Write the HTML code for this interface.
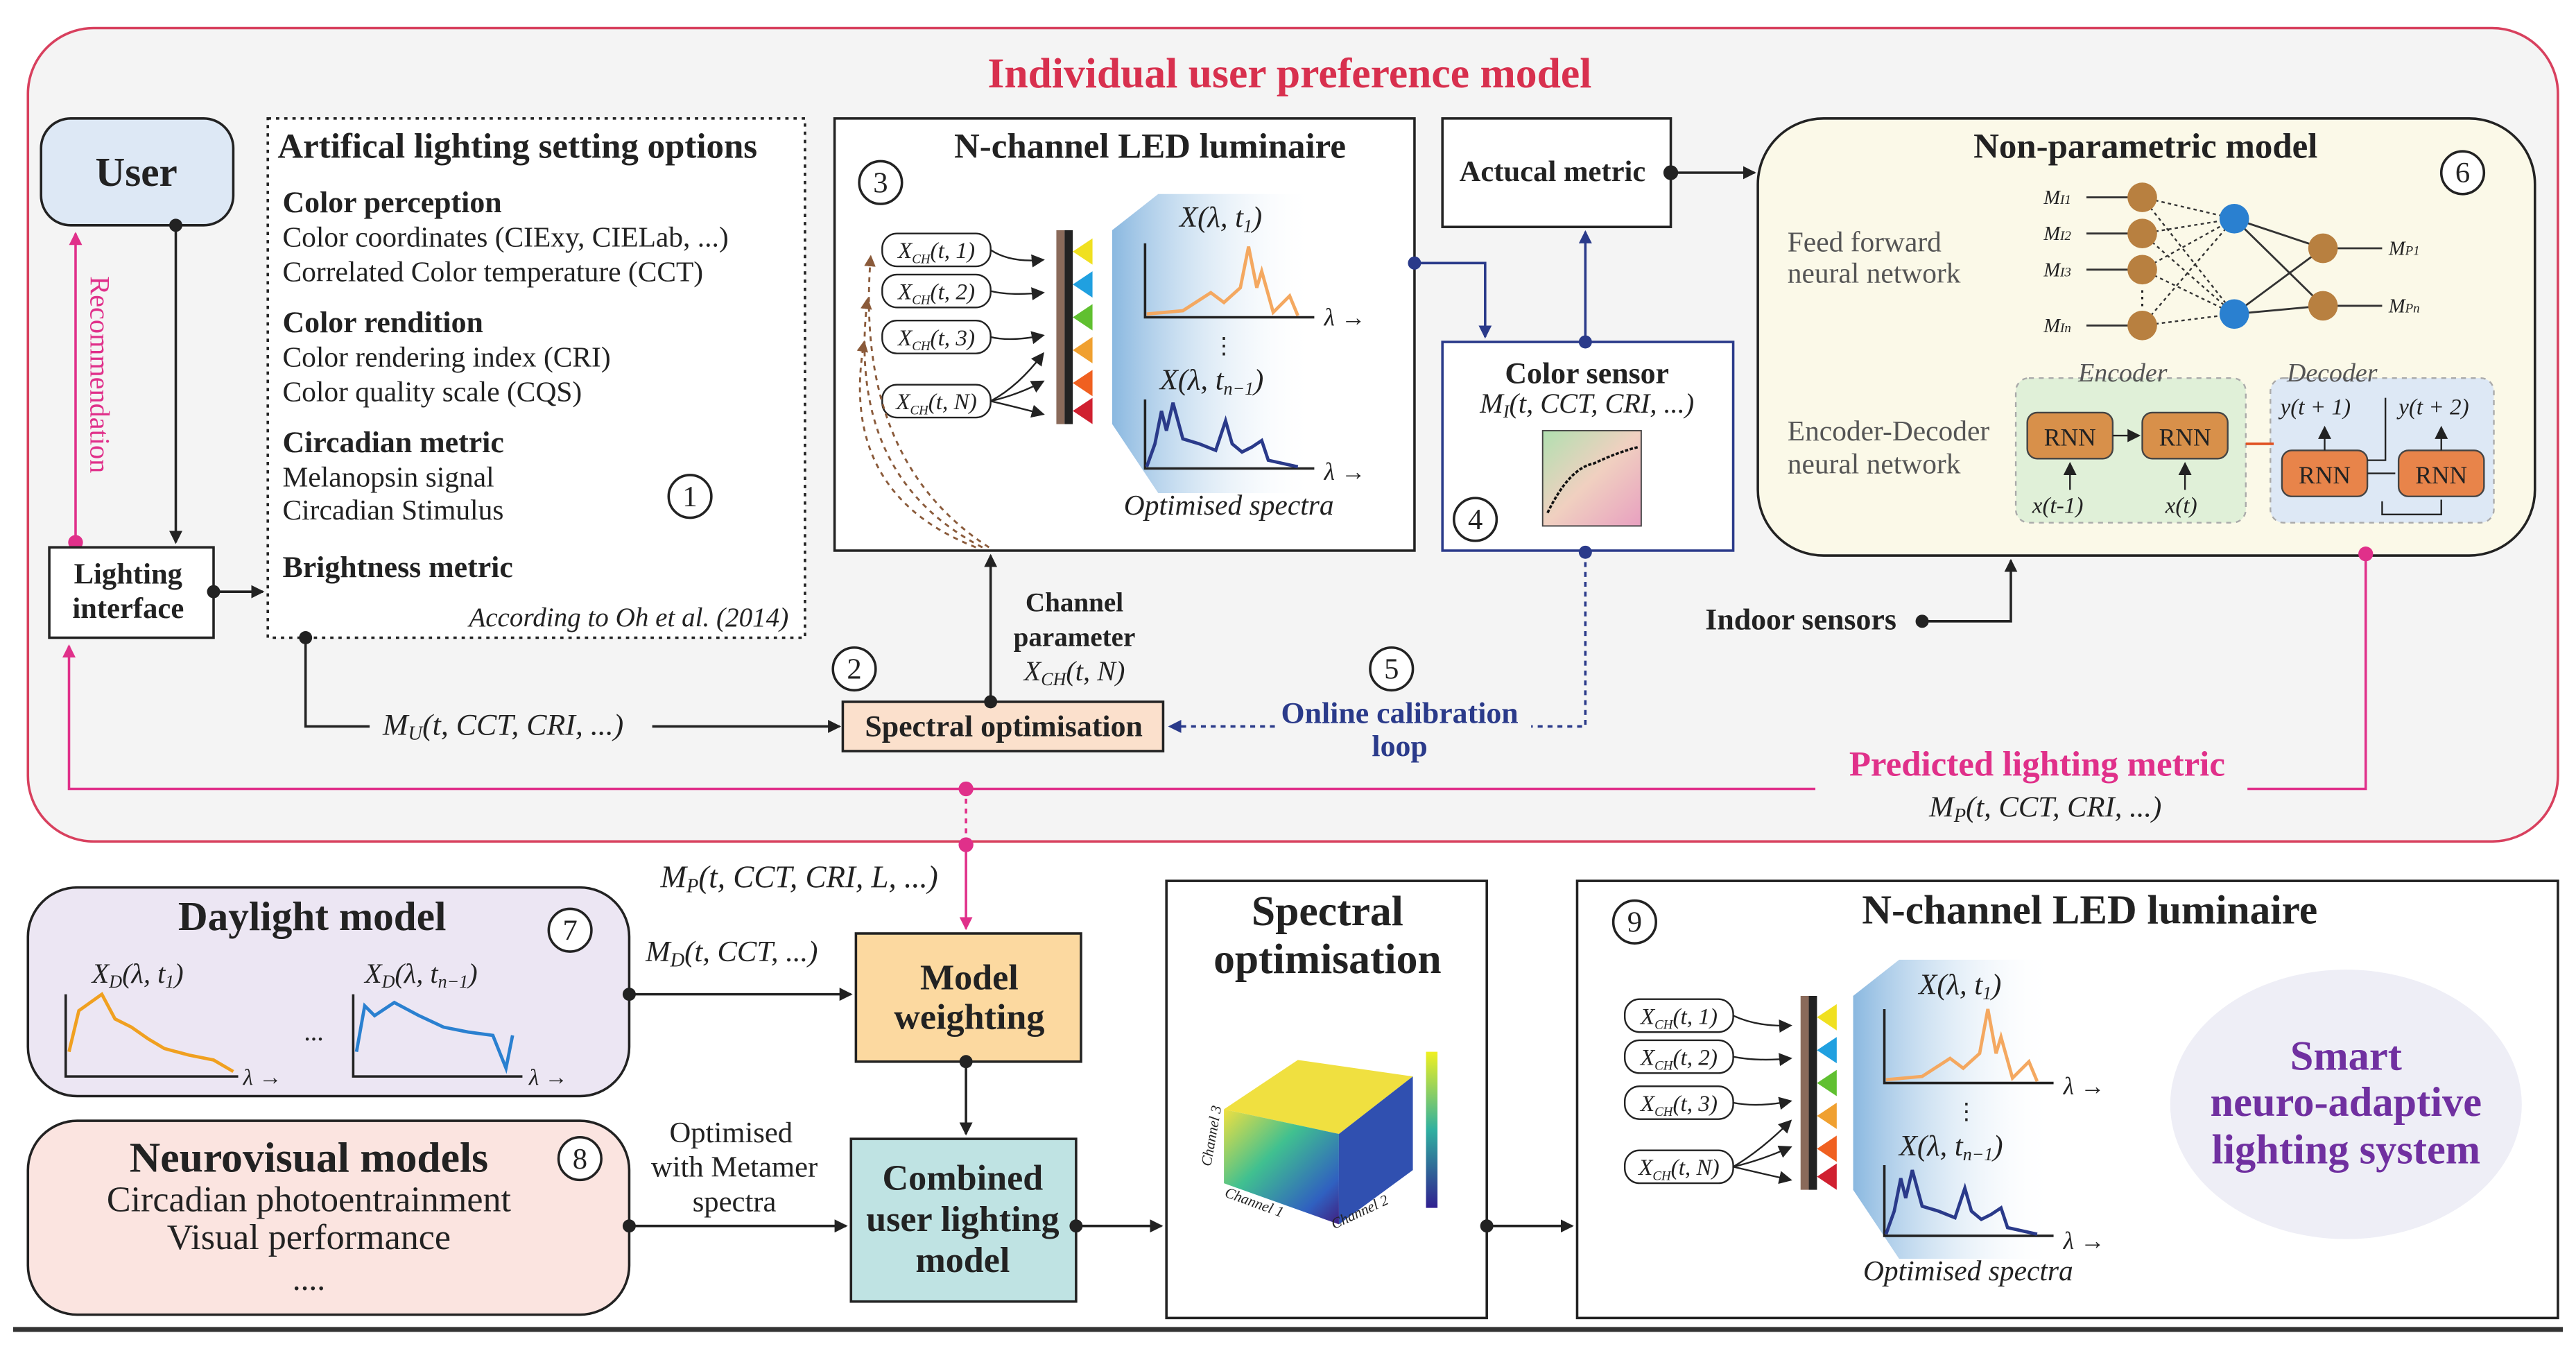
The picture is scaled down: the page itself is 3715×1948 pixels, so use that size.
<!DOCTYPE html>
<html><head><meta charset="utf-8"><style>
html,body{margin:0;padding:0;background:#fff}
svg{display:block}
text{font-family:"Liberation Serif",serif;fill:#222}
.b{font-weight:bold}
.i{font-style:italic}
</style></head><body>
<svg width="3715" height="1948" viewBox="0 0 1568 822" xmlns="http://www.w3.org/2000/svg">
<defs>
<marker id="a" markerWidth="8" markerHeight="8" refX="7" refY="4" orient="auto" markerUnits="userSpaceOnUse"><path d="M0,0 L8,4 L0,8 Z" fill="#222"/></marker>
<marker id="ab" markerWidth="8" markerHeight="8" refX="7" refY="4" orient="auto" markerUnits="userSpaceOnUse"><path d="M0,0 L8,4 L0,8 Z" fill="#2a3a8a"/></marker>
<marker id="ap" markerWidth="8" markerHeight="8" refX="7" refY="4" orient="auto" markerUnits="userSpaceOnUse"><path d="M0,0 L8,4 L0,8 Z" fill="#e0308a"/></marker>
<marker id="abr" markerWidth="7" markerHeight="7" refX="6" refY="3.5" orient="auto" markerUnits="userSpaceOnUse"><path d="M0,0 L7,3.5 L0,7 Z" fill="#8a5a3a"/></marker>
<linearGradient id="bl" x1="0" x2="1"><stop offset="0" stop-color="#8ab8e0"/><stop offset="1" stop-color="#fff" stop-opacity="0"/></linearGradient>
<linearGradient id="cube" x1="0" y1="0" x2="1" y2="1"><stop offset="0" stop-color="#f0e040"/><stop offset="0.4" stop-color="#40c090"/><stop offset="0.8" stop-color="#3060c0"/><stop offset="1" stop-color="#402080"/></linearGradient>
<linearGradient id="cb" x1="0" y1="0" x2="0" y2="1"><stop offset="0" stop-color="#f0f020"/><stop offset="0.5" stop-color="#30b0a0"/><stop offset="1" stop-color="#302090"/></linearGradient>
<linearGradient id="cie" x1="0" y1="0" x2="1" y2="1"><stop offset="0" stop-color="#b0e0b0"/><stop offset="0.5" stop-color="#f0d0c0"/><stop offset="1" stop-color="#e8a0c0"/></linearGradient>
</defs>

<rect x="17" y="17" width="1540" height="495" rx="40" fill="#f4f4f4" stroke="#d8405e" stroke-width="1.5"/>
<text x="785" y="53" text-anchor="middle" class="b" font-size="26" style="fill:#d8304e">Individual user preference model</text>

<rect x="25" y="72" width="117" height="65" rx="18" fill="#dde8f5" stroke="#222" stroke-width="1.5"/>
<text x="83" y="113" text-anchor="middle" class="b" font-size="25">User</text>
<line x1="107" y1="137" x2="107" y2="330" stroke="#222" stroke-width="1.5" marker-end="url(#a)"/>
<circle cx="107" cy="137" r="4" fill="#222"/>
<line x1="46" y1="330" x2="46" y2="142" stroke="#e0308a" stroke-width="1.5" marker-end="url(#ap)"/>
<circle cx="46" cy="330" r="4.5" fill="#e0308a"/>
<text transform="translate(55,168) rotate(90)" font-size="17" style="fill:#e0308a">Recommendation</text>

<rect x="30" y="333" width="100" height="55" fill="#fff" stroke="#222" stroke-width="1.5"/>
<text x="78" y="355" text-anchor="middle" class="b" font-size="18">Lighting</text>
<text x="78" y="376" text-anchor="middle" class="b" font-size="18">interface</text>
<circle cx="130" cy="360" r="4" fill="#222"/>
<line x1="130" y1="360" x2="160" y2="360" stroke="#222" stroke-width="1.5" marker-end="url(#a)"/>

<rect x="163" y="72" width="327" height="316" fill="#fff" stroke="#222" stroke-width="1.5" stroke-dasharray="2,3"/>
<text x="169" y="96" class="b" font-size="21.5">Artifical lighting setting options</text>
<text x="172" y="129" class="b" font-size="18.5">Color perception</text>
<text x="172" y="150" font-size="17.5">Color coordinates (CIExy, CIELab, ...)</text>
<text x="172" y="171" font-size="17.5">Correlated Color temperature (CCT)</text>
<text x="172" y="202" class="b" font-size="18.5">Color rendition</text>
<text x="172" y="223" font-size="17.5">Color rendering index (CRI)</text>
<text x="172" y="244" font-size="17.5">Color quality scale (CQS)</text>
<text x="172" y="275" class="b" font-size="18.5">Circadian metric</text>
<text x="172" y="296" font-size="17.5">Melanopsin signal</text>
<text x="172" y="316" font-size="17.5">Circadian Stimulus</text>
<text x="172" y="351" class="b" font-size="18.5">Brightness metric</text>
<text x="480" y="381" text-anchor="end" class="i" font-size="16.5">According to Oh et al. (2014)</text>
<circle cx="420" cy="302" r="13" fill="#fff" stroke="#222" stroke-width="1.5"/><text x="420" y="308" text-anchor="middle" font-size="18">1</text>

<circle cx="186" cy="388" r="4" fill="#222"/>
<path d="M186,388 V442 H225" fill="none" stroke="#222" stroke-width="1.5"/>
<text x="233" y="447" class="i" font-size="18.5">M<tspan font-size="12" dy="3">U</tspan><tspan dy="-3">(t, CCT, CRI, ...)</tspan></text>
<line x1="397" y1="442" x2="511" y2="442" stroke="#222" stroke-width="1.5" marker-end="url(#a)"/>

<rect x="508" y="72" width="353" height="263" fill="#fff" stroke="#222" stroke-width="1.5"/>
<text x="700" y="96" text-anchor="middle" class="b" font-size="21.5">N-channel LED luminaire</text>
<circle cx="536" cy="111" r="13" fill="#fff" stroke="#222" stroke-width="1.5"/><text x="536" y="117" text-anchor="middle" font-size="18">3</text>
<g font-size="14" class="i">
<rect x="537" y="142" width="66" height="20" rx="9" fill="#fff" stroke="#222"/><text x="570" y="157" text-anchor="middle" class="i">X<tspan font-size="8" dy="3">CH</tspan><tspan dy="-3">(t, 1)</tspan></text>
<rect x="537" y="167" width="66" height="20" rx="9" fill="#fff" stroke="#222"/><text x="570" y="182" text-anchor="middle" class="i">X<tspan font-size="8" dy="3">CH</tspan><tspan dy="-3">(t, 2)</tspan></text>
<rect x="537" y="195" width="66" height="20" rx="9" fill="#fff" stroke="#222"/><text x="570" y="210" text-anchor="middle" class="i">X<tspan font-size="8" dy="3">CH</tspan><tspan dy="-3">(t, 3)</tspan></text>
<rect x="537" y="234" width="66" height="20" rx="9" fill="#fff" stroke="#222"/><text x="570" y="249" text-anchor="middle" class="i">X<tspan font-size="8" dy="3">CH</tspan><tspan dy="-3">(t, N)</tspan></text>
</g>
<g stroke="#222" fill="none" stroke-width="1">
<path d="M603,152 Q615,160 635,158" marker-end="url(#a)"/>
<path d="M603,177 Q615,180 635,178" marker-end="url(#a)"/>
<path d="M603,205 Q615,208 635,204" marker-end="url(#a)"/>
<path d="M603,244 Q620,235 635,215" marker-end="url(#a)"/>
<path d="M603,244 Q620,240 635,232" marker-end="url(#a)"/>
<path d="M603,244 Q620,248 635,252" marker-end="url(#a)"/>
</g>
<rect x="643" y="140" width="5" height="118" fill="#8a6a5a"/>
<rect x="648" y="140" width="5" height="118" fill="#222"/>
<polygon points="653,153 665,145 665,161" fill="#f0e020"/>
<polygon points="653,173 665,165 665,181" fill="#20a0e0"/>
<polygon points="653,193 665,185 665,201" fill="#60c030"/>
<polygon points="653,213 665,205 665,221" fill="#f0a030"/>
<polygon points="653,233 665,225 665,241" fill="#f06020"/>
<polygon points="653,250 665,242 665,258" fill="#d02030"/>
<polygon points="677,140 705,118 800,118 800,300 705,300 677,258" fill="url(#bl)"/>
<text x="718" y="138" class="i" font-size="18">X(λ, t<tspan font-size="11" dy="3">1</tspan><tspan dy="-3">)</tspan></text>
<path d="M697,148 V193 H800" fill="none" stroke="#222" stroke-width="1.5"/>
<path d="M698,191 L720,189 L737,178 L745,184 L755,175 L760,150 L765,175 L768,165 L775,190 L785,180 L790,192" fill="none" stroke="#f4a860" stroke-width="2"/>
<text x="806" y="198" class="i" font-size="15">λ →</text>
<text x="745" y="215" font-size="14" text-anchor="middle">⋮</text>
<text x="706" y="237" class="i" font-size="18">X(λ, t<tspan font-size="11" dy="3">n−1</tspan><tspan dy="-3">)</tspan></text>
<path d="M697,243 V285 H800" fill="none" stroke="#222" stroke-width="1.5"/>
<path d="M698,284 L703,270 L707,250 L710,262 L714,245 L720,267 L730,270 L740,274 L746,256 L750,270 L756,275 L762,272 L768,268 L772,280 L790,284" fill="none" stroke="#2a3a8a" stroke-width="2"/>
<text x="806" y="292" class="i" font-size="15">λ →</text>
<text x="748" y="313" text-anchor="middle" class="i" font-size="17.5">Optimised spectra</text>
<g stroke="#8a5a3a" fill="none" stroke-width="1.2" stroke-dasharray="3,3">
<path d="M602,333 Q520,280 530,156" marker-end="url(#abr)"/>
<path d="M598,333 Q515,290 528,182" marker-end="url(#abr)"/>
<path d="M594,333 Q510,300 526,208" marker-end="url(#abr)"/>
</g>

<circle cx="861" cy="160" r="4" fill="#2a3a8a"/>
<path d="M861,160 H904 V205" fill="none" stroke="#2a3a8a" stroke-width="1.5" marker-end="url(#ab)"/>
<line x1="965" y1="208" x2="965" y2="141" stroke="#2a3a8a" stroke-width="1.5" marker-end="url(#ab)"/>

<rect x="878" y="72" width="139" height="66" fill="#fff" stroke="#222" stroke-width="1.5"/>
<text x="945" y="110" text-anchor="middle" class="b" font-size="18">Actucal metric</text>
<circle cx="1017" cy="105" r="4.5" fill="#222"/>
<line x1="1017" y1="105" x2="1068" y2="105" stroke="#222" stroke-width="1.5" marker-end="url(#a)"/>

<rect x="878" y="208" width="177" height="127" fill="#fff" stroke="#2a3a8a" stroke-width="1.5"/>
<circle cx="965" cy="208" r="4" fill="#2a3a8a"/>
<text x="966" y="233" text-anchor="middle" class="b" font-size="18.5">Color sensor</text>
<text x="966" y="251" text-anchor="middle" class="i" font-size="17">M<tspan font-size="11" dy="3">I</tspan><tspan dy="-3">(t, CCT, CRI, ...)</tspan></text>
<rect x="939" y="262" width="60" height="58" fill="url(#cie)" stroke="#444" stroke-width="0.8"/>
<path d="M942,312 Q955,285 970,282 Q985,275 997,272" fill="none" stroke="#111" stroke-width="1.5" stroke-dasharray="2,1"/>
<circle cx="898" cy="316" r="13" fill="#fff" stroke="#222" stroke-width="1.5"/><text x="898" y="322" text-anchor="middle" font-size="18">4</text>

<rect x="1070" y="72" width="473" height="266" rx="40" fill="#fbf9e8" stroke="#222" stroke-width="1.5"/>
<text x="1306" y="96" text-anchor="middle" class="b" font-size="21.5">Non-parametric model</text>
<circle cx="1499" cy="105" r="13" fill="#fff" stroke="#222" stroke-width="1.5"/><text x="1499" y="111" text-anchor="middle" font-size="18">6</text>
<text x="1088" y="153" font-size="17.5" style="fill:#555">Feed forward</text>
<text x="1088" y="172" font-size="17.5" style="fill:#555">neural network</text>
<g stroke="#333" stroke-width="1" stroke-dasharray="2,2">
<path d="M1304,120 L1360,133 M1304,120 L1360,191 M1304,142 L1360,133 M1304,142 L1360,191 M1304,164 L1360,133 M1304,164 L1360,191 M1304,198 L1360,133 M1304,198 L1360,191"/>
</g>
<g stroke="#333" stroke-width="1.2">
<path d="M1360,133 L1414,151 M1360,133 L1414,186 M1360,191 L1414,151 M1360,191 L1414,186 M1414,151 L1450,151 M1414,186 L1450,186 M1270,120 L1304,120 M1270,142 L1304,142 M1270,164 L1304,164 M1270,198 L1304,198"/>
</g>
<g fill="#b88040"><circle cx="1304" cy="120" r="9"/><circle cx="1304" cy="142" r="9"/><circle cx="1304" cy="164" r="9"/><circle cx="1304" cy="198" r="9"/><circle cx="1414" cy="151" r="9"/><circle cx="1414" cy="186" r="9"/></g>
<g fill="#2a80d0"><circle cx="1360" cy="133" r="9"/><circle cx="1360" cy="191" r="9"/></g>
<g class="i" font-size="12"><text x="1244" y="124">M<tspan font-size="8">I1</tspan></text><text x="1244" y="146">M<tspan font-size="8">I2</tspan></text><text x="1244" y="168">M<tspan font-size="8">I3</tspan></text><text x="1244" y="202">M<tspan font-size="8">In</tspan></text><text x="1454" y="155">M<tspan font-size="8">P1</tspan></text><text x="1454" y="190">M<tspan font-size="8">Pn</tspan></text></g>
<text x="1304" y="185" text-anchor="middle" font-size="12">⋮</text>
<text x="1088" y="268" font-size="17.5" style="fill:#555">Encoder-Decoder</text>
<text x="1088" y="288" font-size="17.5" style="fill:#555">neural network</text>
<rect x="1227" y="230" width="140" height="88" rx="8" fill="#e0f0d8" stroke="#aaa" stroke-dasharray="3,3"/>
<rect x="1382" y="230" width="136" height="88" rx="8" fill="#dde8f5" stroke="#aaa" stroke-dasharray="3,3"/>
<text x="1265" y="232" class="i" font-size="16" style="fill:#555">Encoder</text>
<text x="1392" y="232" class="i" font-size="16" style="fill:#555">Decoder</text>
<rect x="1234" y="251" width="52" height="28" rx="6" fill="#d8904a" stroke="#444"/><text x="1260" y="271" text-anchor="middle" font-size="15">RNN</text>
<rect x="1304" y="251" width="52" height="28" rx="6" fill="#d8904a" stroke="#444"/><text x="1330" y="271" text-anchor="middle" font-size="15">RNN</text>
<rect x="1389" y="274" width="52" height="28" rx="6" fill="#e8844a" stroke="#444"/><text x="1415" y="294" text-anchor="middle" font-size="15">RNN</text>
<rect x="1460" y="274" width="52" height="28" rx="6" fill="#e8844a" stroke="#444"/><text x="1486" y="294" text-anchor="middle" font-size="15">RNN</text>
<line x1="1286" y1="265" x2="1302" y2="265" stroke="#222" marker-end="url(#a)"/>
<line x1="1367" y1="270" x2="1384" y2="270" stroke="#e05020" stroke-width="1.5"/>
<path d="M1441,280 H1452 V242 M1441,288 H1458" fill="none" stroke="#222"/>
<path d="M1450,305 V313 H1486 V304" fill="none" stroke="#222"/>
<line x1="1260" y1="298" x2="1260" y2="282" stroke="#222" marker-end="url(#a)"/>
<line x1="1330" y1="298" x2="1330" y2="282" stroke="#222" marker-end="url(#a)"/>
<line x1="1415" y1="274" x2="1415" y2="260" stroke="#222" marker-end="url(#a)"/>
<line x1="1486" y1="274" x2="1486" y2="260" stroke="#222" marker-end="url(#a)"/>
<g class="i" font-size="14"><text x="1237" y="312">x(t-1)</text><text x="1318" y="312">x(t)</text><text x="1388" y="252">y(t + 1)</text><text x="1460" y="252">y(t + 2)</text></g>

<text x="1038" y="383" class="b" font-size="18.5">Indoor sensors</text>
<circle cx="1170" cy="378" r="4" fill="#222"/>
<path d="M1170,378 H1224 V341" fill="none" stroke="#222" stroke-width="1.5" marker-end="url(#a)"/>

<rect x="513" y="427" width="195" height="30" fill="#fbe0cc" stroke="#222" stroke-width="1.5"/>
<text x="611" y="448" text-anchor="middle" class="b" font-size="18.5">Spectral optimisation</text>
<circle cx="603" cy="427" r="4" fill="#222"/>
<line x1="603" y1="427" x2="603" y2="338" stroke="#222" stroke-width="1.5" marker-end="url(#a)"/>
<text x="654" y="372" text-anchor="middle" class="b" font-size="16.5">Channel</text>
<text x="654" y="393" text-anchor="middle" class="b" font-size="16.5">parameter</text>
<text x="654" y="414" text-anchor="middle" class="i" font-size="17">X<tspan font-size="11" dy="3">CH</tspan><tspan dy="-3">(t, N)</tspan></text>
<circle cx="520" cy="407" r="13" fill="#fff" stroke="#222" stroke-width="1.5"/><text x="520" y="413" text-anchor="middle" font-size="18">2</text>
<circle cx="847" cy="407" r="13" fill="#fff" stroke="#222" stroke-width="1.5"/><text x="847" y="413" text-anchor="middle" font-size="18">5</text>
<circle cx="965" cy="336" r="4" fill="#2a3a8a"/>
<path d="M965,336 V442 H932 M776,442 H712" fill="none" stroke="#2a3a8a" stroke-width="1.5" stroke-dasharray="3,3" marker-end="url(#ab)"/>
<text x="852" y="440" text-anchor="middle" class="b" font-size="18.5" style="fill:#2a3a8a">Online calibration</text>
<text x="852" y="460" text-anchor="middle" class="b" font-size="18.5" style="fill:#2a3a8a">loop</text>

<circle cx="1440" cy="337" r="4.5" fill="#e0308a"/>
<path d="M1440,337 V480 H1368 M1105,480 H42 V393" fill="none" stroke="#e0308a" stroke-width="1.5" marker-end="url(#ap)"/>
<text x="1240" y="472" text-anchor="middle" class="b" font-size="21.5" style="fill:#e0308a">Predicted lighting metric</text>
<text x="1245" y="497" text-anchor="middle" class="i" font-size="18">M<tspan font-size="12" dy="3">P</tspan><tspan dy="-3">(t, CCT, CRI, ...)</tspan></text>
<circle cx="588" cy="480" r="4.5" fill="#e0308a"/>
<line x1="588" y1="480" x2="588" y2="514" stroke="#e0308a" stroke-width="1.5" stroke-dasharray="3,3"/>
<circle cx="588" cy="514" r="4.5" fill="#e0308a"/>
<line x1="588" y1="514" x2="588" y2="565" stroke="#e0308a" stroke-width="1.5" marker-end="url(#ap)"/>
<text x="402" y="540" class="i" font-size="19">M<tspan font-size="12" dy="3">P</tspan><tspan dy="-3">(t, CCT, CRI, L, ...)</tspan></text>

<rect x="17" y="540" width="366" height="127" rx="30" fill="#ece6f3" stroke="#222" stroke-width="1.5"/>
<text x="190" y="566" text-anchor="middle" class="b" font-size="25">Daylight model</text>
<circle cx="347" cy="566" r="13" fill="#fff" stroke="#222" stroke-width="1.5"/><text x="347" y="572" text-anchor="middle" font-size="18">7</text>
<text x="56" y="598" class="i" font-size="17">X<tspan font-size="11" dy="3">D</tspan><tspan dy="-3">(λ, t</tspan><tspan font-size="11" dy="3">1</tspan><tspan dy="-3">)</tspan></text>
<text x="222" y="598" class="i" font-size="17">X<tspan font-size="11" dy="3">D</tspan><tspan dy="-3">(λ, t</tspan><tspan font-size="11" dy="3">n−1</tspan><tspan dy="-3">)</tspan></text>
<path d="M40,605 V655 H145" fill="none" stroke="#222" stroke-width="1.5"/>
<path d="M42,640 L48,615 L55,610 L62,605 L70,620 L80,625 L90,632 L100,638 L115,642 L130,645 L142,652" fill="none" stroke="#f0a020" stroke-width="2"/>
<text x="148" y="660" class="i" font-size="14">λ →</text>
<text x="185" y="633" font-size="16">...</text>
<path d="M215,605 V655 H318" fill="none" stroke="#222" stroke-width="1.5"/>
<path d="M217,640 L222,612 L228,618 L240,610 L255,618 L270,625 L285,628 L300,630 L308,650 L312,630" fill="none" stroke="#2a80d0" stroke-width="2"/>
<text x="322" y="660" class="i" font-size="14">λ →</text>
<circle cx="383" cy="605" r="4" fill="#222"/>
<line x1="383" y1="605" x2="518" y2="605" stroke="#222" stroke-width="1.5" marker-end="url(#a)"/>
<text x="393" y="585" class="i" font-size="18">M<tspan font-size="12" dy="3">D</tspan><tspan dy="-3">(t, CCT, ...)</tspan></text>

<rect x="17" y="682" width="366" height="118" rx="30" fill="#fbe4e0" stroke="#222" stroke-width="1.5"/>
<text x="188" y="713" text-anchor="middle" class="b" font-size="26">Neurovisual models</text>
<circle cx="353" cy="705" r="13" fill="#fff" stroke="#222" stroke-width="1.5"/><text x="353" y="711" text-anchor="middle" font-size="18">8</text>
<text x="188" y="737" text-anchor="middle" font-size="22">Circadian photoentrainment</text>
<text x="188" y="760" text-anchor="middle" font-size="22">Visual performance</text>
<text x="188" y="785" text-anchor="middle" font-size="20">....</text>
<circle cx="383" cy="746" r="4" fill="#222"/>
<line x1="383" y1="746" x2="515" y2="746" stroke="#222" stroke-width="1.5" marker-end="url(#a)"/>
<text x="445" y="695" text-anchor="middle" font-size="18">Optimised</text>
<text x="447" y="716" text-anchor="middle" font-size="18">with Metamer</text>
<text x="447" y="737" text-anchor="middle" font-size="18">spectra</text>

<rect x="521" y="568" width="137" height="78" fill="#fcd9a0" stroke="#222" stroke-width="1.5"/>
<text x="590" y="602" text-anchor="middle" class="b" font-size="22">Model</text>
<text x="590" y="626" text-anchor="middle" class="b" font-size="22">weighting</text>
<circle cx="588" cy="646" r="4" fill="#222"/>
<line x1="588" y1="646" x2="588" y2="690" stroke="#222" stroke-width="1.5" marker-end="url(#a)"/>

<rect x="518" y="693" width="137" height="99" fill="#bfe3e3" stroke="#222" stroke-width="1.5"/>
<text x="586" y="724" text-anchor="middle" class="b" font-size="22">Combined</text>
<text x="586" y="749" text-anchor="middle" class="b" font-size="22">user lighting</text>
<text x="586" y="774" text-anchor="middle" class="b" font-size="22">model</text>
<circle cx="655" cy="746" r="4" fill="#222"/>
<line x1="655" y1="746" x2="707" y2="746" stroke="#222" stroke-width="1.5" marker-end="url(#a)"/>

<rect x="710" y="536" width="195" height="266" fill="#fff" stroke="#222" stroke-width="1.5"/>
<text x="808" y="563" text-anchor="middle" class="b" font-size="26">Spectral</text>
<text x="808" y="592" text-anchor="middle" class="b" font-size="26">optimisation</text>
<polygon points="745,675 790,645 860,655 815,690" fill="#f0e040"/>
<polygon points="745,675 815,690 815,745 745,720" fill="url(#cube)"/>
<polygon points="815,690 860,655 860,712 815,745" fill="#3050b0"/>
<rect x="868" y="640" width="7" height="95" fill="url(#cb)"/>
<text transform="translate(737,710) rotate(-80)" font-size="9" font-style="italic">Channel 3</text>
<text transform="translate(745,728) rotate(20)" font-size="9" font-style="italic">Channel 1</text>
<text transform="translate(812,748) rotate(-25)" font-size="9" font-style="italic">Channel 2</text>
<circle cx="905" cy="746" r="4" fill="#222"/>
<line x1="905" y1="746" x2="957" y2="746" stroke="#222" stroke-width="1.5" marker-end="url(#a)"/>

<rect x="960" y="536" width="597" height="266" fill="#fff" stroke="#222" stroke-width="1.5"/>
<text x="1272" y="562" text-anchor="middle" class="b" font-size="25">N-channel LED luminaire</text>
<circle cx="995" cy="561" r="13" fill="#fff" stroke="#222" stroke-width="1.5"/><text x="995" y="567" text-anchor="middle" font-size="18">9</text>
<g font-size="14" class="i">
<rect x="989" y="608" width="66" height="20" rx="9" fill="#fff" stroke="#222"/><text x="1022" y="623" text-anchor="middle" class="i">X<tspan font-size="8" dy="3">CH</tspan><tspan dy="-3">(t, 1)</tspan></text>
<rect x="989" y="633" width="66" height="20" rx="9" fill="#fff" stroke="#222"/><text x="1022" y="648" text-anchor="middle" class="i">X<tspan font-size="8" dy="3">CH</tspan><tspan dy="-3">(t, 2)</tspan></text>
<rect x="989" y="661" width="66" height="20" rx="9" fill="#fff" stroke="#222"/><text x="1022" y="676" text-anchor="middle" class="i">X<tspan font-size="8" dy="3">CH</tspan><tspan dy="-3">(t, 3)</tspan></text>
<rect x="989" y="700" width="66" height="20" rx="9" fill="#fff" stroke="#222"/><text x="1022" y="715" text-anchor="middle" class="i">X<tspan font-size="8" dy="3">CH</tspan><tspan dy="-3">(t, N)</tspan></text>
</g>
<g stroke="#222" fill="none" stroke-width="1">
<path d="M1055,618 Q1070,625 1090,624" marker-end="url(#a)"/>
<path d="M1055,643 Q1070,646 1090,644" marker-end="url(#a)"/>
<path d="M1055,671 Q1070,674 1090,670" marker-end="url(#a)"/>
<path d="M1055,710 Q1072,700 1090,682" marker-end="url(#a)"/>
<path d="M1055,710 Q1072,706 1090,698" marker-end="url(#a)"/>
<path d="M1055,710 Q1072,714 1090,718" marker-end="url(#a)"/>
</g>
<rect x="1096" y="606" width="5" height="118" fill="#8a6a5a"/>
<rect x="1101" y="606" width="5" height="118" fill="#222"/>
<polygon points="1106,619 1118,611 1118,627" fill="#f0e020"/>
<polygon points="1106,639 1118,631 1118,647" fill="#20a0e0"/>
<polygon points="1106,659 1118,651 1118,667" fill="#60c030"/>
<polygon points="1106,679 1118,671 1118,687" fill="#f0a030"/>
<polygon points="1106,699 1118,691 1118,707" fill="#f06020"/>
<polygon points="1106,716 1118,708 1118,724" fill="#d02030"/>
<polygon points="1128,606 1156,584 1250,584 1250,766 1156,766 1128,724" fill="url(#bl)"/>
<text x="1168" y="605" class="i" font-size="18">X(λ, t<tspan font-size="11" dy="3">1</tspan><tspan dy="-3">)</tspan></text>
<path d="M1147,614 V659 H1250" fill="none" stroke="#222" stroke-width="1.5"/>
<path d="M1148,657 L1170,655 L1187,644 L1195,650 L1205,641 L1210,614 L1215,641 L1218,631 L1225,656 L1235,646 L1240,658" fill="none" stroke="#f4a860" stroke-width="2"/>
<text x="1256" y="666" class="i" font-size="15">λ →</text>
<text x="1197" y="681" font-size="14" text-anchor="middle">⋮</text>
<text x="1156" y="703" class="i" font-size="18">X(λ, t<tspan font-size="11" dy="3">n−1</tspan><tspan dy="-3">)</tspan></text>
<path d="M1147,709 V752 H1250" fill="none" stroke="#222" stroke-width="1.5"/>
<path d="M1148,751 L1153,737 L1157,717 L1160,729 L1164,712 L1170,734 L1180,737 L1190,741 L1196,723 L1200,737 L1206,742 L1212,739 L1218,735 L1222,747 L1240,751" fill="none" stroke="#2a3a8a" stroke-width="2"/>
<text x="1256" y="760" class="i" font-size="15">λ →</text>
<text x="1198" y="779" text-anchor="middle" class="i" font-size="17.5">Optimised spectra</text>
<ellipse cx="1428" cy="672" rx="107" ry="82" fill="#eeeef6"/>
<text x="1428" y="651" text-anchor="middle" class="b" font-size="25.5" style="fill:#7030a0">Smart</text>
<text x="1428" y="679" text-anchor="middle" class="b" font-size="25.5" style="fill:#7030a0">neuro-adaptive</text>
<text x="1428" y="708" text-anchor="middle" class="b" font-size="25.5" style="fill:#7030a0">lighting system</text>

<line x1="8" y1="809" x2="1560" y2="809" stroke="#333" stroke-width="3"/>
</svg>
</body></html>
